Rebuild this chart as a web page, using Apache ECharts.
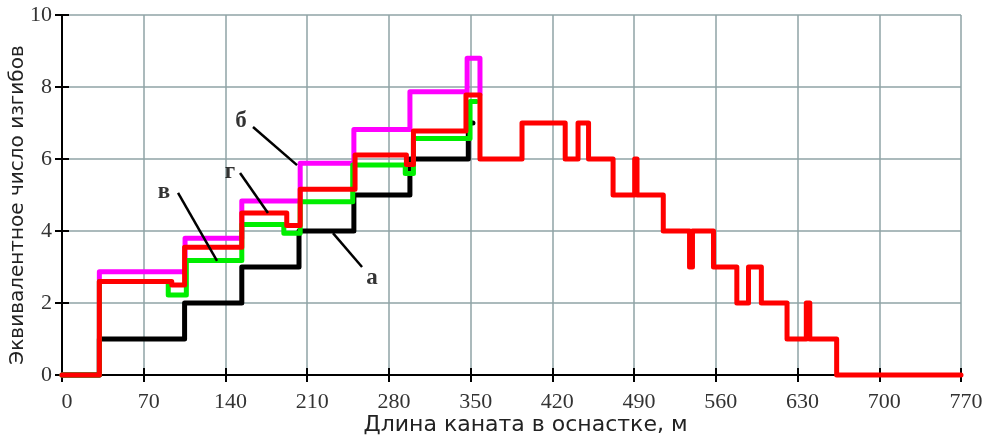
<!DOCTYPE html>
<html>
<head>
<meta charset="utf-8">
<script src="https://cdn.jsdelivr.net/npm/echarts@6/dist/echarts.min.js"></script>
<style>html,body{margin:0;padding:0;background:#fff}#c{width:989px;height:440px}</style>
</head>
<body>
<div id="c"></div>
<script>
// Step curves: each point is [x where a level starts, level]; last point closes the curve.
var curveRed = [[0,0],[32,2.6],[94,2.5],[105,3.55],[154,4.5],[192.5,4.15],[204,5.16],[251,6.11],[295,5.85],[301,6.78],[346,7.78],[358,6],[394,7],[431,6],[442,7],[451,6],[472,5],[490.5,6],[492.5,5],[515,4],[537.5,3],[540,4],[558,3],[578,2],[588,3],[599,2],[621,1],[637.5,2],[640.5,1],[663.5,0],[770,0]];
var curveMagenta = [[0,0],[32,2.87],[105.4,3.8],[154,4.83],[204,5.88],[250,6.82],[298,7.87],[347,8.8],[358,7.8]];
var curveGreen = [[0,0],[32,2.6],[91,2.22],[106.5,3.18],[154,4.18],[190,3.94],[204,4.81],[249,5.83],[294,5.6],[301,6.57],[349.5,7.6],[355,7.6]];
var curveBlack = [[0,0],[32,1],[105,2],[154,3],[203,4],[250,5],[298,6],[348,7],[352,7]];

// Annotation labels (curve names) and their leader lines, in data units
var annotNames = ['б','г','в','а'];
var annotTextAt = [[153.3,7.06],[143.9,5.64],[87.4,5.08],[265.5,2.69]];
var annotLeaders = [
  [[163.6,6.89],[201.3,5.83]],
  [[152.5,5.61],[176.4,4.5]],
  [[99.4,5.06],[132.8,3.17]],
  [[232.1,3.94],[257,3.0]]
];

var xTicks = [0,70,140,210,280,350,420,490,560,630,700,770];
var yTicks = [0,2,4,6,8,10];
var xTitle = 'Длина каната в оснастке, м';
var yTitle = 'Эквивалентное число изгибов';

var chart = echarts.init(document.getElementById('c'), null, {renderer:'canvas'});
var serif = '"Liberation Serif", "Times New Roman", serif';
var sans = '"DejaVu Sans", "Liberation Sans", Arial, sans-serif';

function stepSeries(data, color, z) {
  return {type:'line', step:'end', data:data, showSymbol:false, symbol:'none', clip:false,
    lineStyle:{color:color, width:5, cap:'round', join:'round'}, z:z, silent:true, animation:false};
}
var series = [
  stepSeries(curveMagenta, '#ff00ff', 3),
  stepSeries(curveBlack, '#000000', 4),
  stepSeries(curveGreen, '#00ee00', 5),
  stepSeries(curveRed, '#ff0000', 6)
];
annotLeaders.forEach(function(seg){
  series.push({type:'line', data:seg, showSymbol:false, symbol:'none', clip:false,
    lineStyle:{color:'#000', width:2.5}, z:7, silent:true, animation:false});
});
series.push({type:'scatter', symbolSize:0, z:8, silent:true, animation:false,
  data: annotTextAt.map(function(p,i){return {value:p, name:annotNames[i]};}),
  label:{show:true, position:'inside', formatter:function(p){return p.name;},
    fontFamily:serif, fontWeight:'bold', fontSize:23, color:'#000'}
});

chart.setOption({
  animation:false,
  backgroundColor:'#fff',
  grid:{left:62, right:28, top:15, bottom:65, containLabel:false, outerBoundsMode:'none'},
  xAxis:[
    {type:'value', min:0, max:770, interval:70,
      name:xTitle, nameLocation:'middle', nameGap:39, nameMoveOverlap:false,
      nameTextStyle:{fontFamily:sans, fontSize:22, color:'#222', padding:[0,0,0,28]},
      axisLine:{show:true, onZero:false, lineStyle:{color:'#000', width:2}},
      axisTick:{show:true, inside:false, length:7, lineStyle:{color:'#000', width:2}},
      axisLabel:{fontFamily:serif, fontSize:22, color:'#333', margin:16, padding:[0,0,0,10], formatter:function(v){return xTicks.indexOf(v)>=0?String(v):'';}},
      splitLine:{show:true, showMinLine:false, lineStyle:{color:'#8fa3a6', width:1.5}}
    },
    {type:'value', min:0, max:770, interval:70, position:'bottom',
      axisLine:{show:false}, axisLabel:{show:false}, splitLine:{show:false},
      axisTick:{show:true, inside:true, length:7, lineStyle:{color:'#000', width:2}}
    }
  ],
  yAxis:[
    {type:'value', min:0, max:10, interval:2,
      name:yTitle, nameLocation:'middle', nameGap:34, nameRotate:90, nameMoveOverlap:false,
      nameTextStyle:{fontFamily:sans, fontSize:20, color:'#222', padding:[0,20,0,0]},
      axisLine:{show:true, onZero:false, lineStyle:{color:'#000', width:2}},
      axisTick:{show:true, inside:false, length:7, lineStyle:{color:'#000', width:2}},
      axisLabel:{fontFamily:serif, fontSize:22, color:'#333', margin:10, formatter:function(v){return yTicks.indexOf(v)>=0?String(v):'';}},
      splitLine:{show:true, showMinLine:false, lineStyle:{color:'#8fa3a6', width:1.5}}
    },
    {type:'value', min:0, max:10, interval:2, position:'left',
      axisLine:{show:false}, axisLabel:{show:false}, splitLine:{show:false},
      axisTick:{show:true, inside:true, length:7, lineStyle:{color:'#000', width:2}}
    }
  ],
  series:series
});
</script>
</body>
</html>
